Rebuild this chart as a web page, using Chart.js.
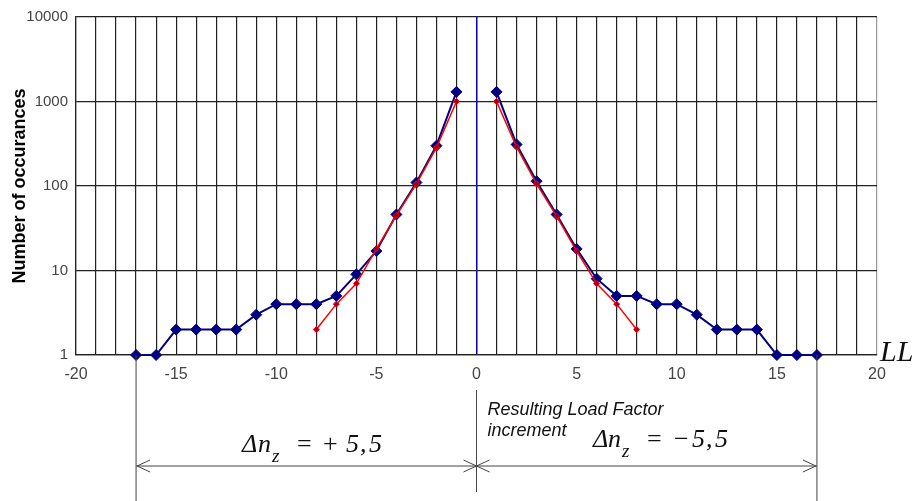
<!DOCTYPE html>
<html>
<head>
<meta charset="utf-8">
<script src="https://cdn.jsdelivr.net/npm/chart.js@4.4.0/dist/chart.umd.min.js"></script>
<style>
  html, body { margin: 0; padding: 0; background: #fff; }
  #wrap { width: 918px; height: 501px; }
</style>
</head>
<body>
<div id="wrap"><canvas id="myChart" width="918" height="501"></canvas></div>
<script>
// load factor steps (LL) and counts
var loadSteps = [-17, -16, -15, -14, -13, -12, -11, -10, -9, -8, -7, -6, -5, -4, -3, -2, -1, 0,
                 1, 2, 3, 4, 5, 6, 7, 8, 9, 10, 11, 12, 13, 14, 15, 16, 17];
var measured = [1, 1, 2, 2, 2, 2, 3, 4, 4, 4, 5, 9, 17, 46, 110, 300, 1300, null,
                1300, 310, 114, 46, 18, 8, 5, 5, 4, 4, 3, 2, 2, 2, 1, 1, 1];

var fitSteps = [-8, -7, -6, -5, -4, -3, -2, -1, 0, 1, 2, 3, 4, 5, 6, 7, 8];
var fitted = [2, 4, 7, 18, 45, 106, 285, 1000, null, 1000, 290, 106, 44, 17, 7, 4, 2];

var xLabels = [-20, -15, -10, -5, 0, 5, 10, 15, 20];
var yTicks = [1, 10, 100, 1000, 10000];
var spanLimit = 17;

function toPoints(xs, ys) {
  return xs.map(function (x, i) { return { x: x, y: ys[i] }; });
}

// chevron arrow head
function head(ctx, x, y, dir) {
  ctx.beginPath();
  ctx.moveTo(x + dir * 13, y - 6);
  ctx.lineTo(x, y);
  ctx.lineTo(x + dir * 13, y + 6);
  ctx.stroke();
}

var annotations = {
  id: 'annotations',
  afterDraw: function (chart) {
    var ctx = chart.ctx;
    var sx = chart.scales.x, sy = chart.scales.y;
    var xL = sx.getPixelForValue(-spanLimit);
    var x0 = sx.getPixelForValue(0);
    var xR = sx.getPixelForValue(spanLimit);
    var yB = sy.getPixelForValue(1);
    var yArrow = 466;

    ctx.save();
    ctx.strokeStyle = '#444';
    ctx.lineWidth = 1;
    ctx.beginPath();
    ctx.moveTo(xL, yB); ctx.lineTo(xL, chart.height);
    ctx.moveTo(xR, yB); ctx.lineTo(xR, chart.height);
    ctx.moveTo(x0, yB + 35); ctx.lineTo(x0, yB + 137);
    ctx.moveTo(xL, yArrow); ctx.lineTo(xR, yArrow);
    ctx.stroke();
    head(ctx, xL + 1, yArrow, 1);
    head(ctx, x0, yArrow, -1);
    head(ctx, x0, yArrow, 1);
    head(ctx, xR - 1, yArrow, -1);

    ctx.fillStyle = '#111';
    ctx.textBaseline = 'alphabetic';
    ctx.textAlign = 'left';
    ctx.font = 'italic 30px "Liberation Serif", "Times New Roman", serif';
    ctx.fillText('LL', sx.right + 3, yB + 6);

    ctx.font = 'italic 18px "Liberation Sans", Arial, sans-serif';
    ctx.fillText('Resulting Load Factor', x0 + 11, 415);
    ctx.fillText('increment', x0 + 11, 436);

    function formula(x, base, offs, sign) {
      var it = 'italic 26px "Liberation Serif", "Times New Roman", serif';
      ctx.font = it;
      ctx.fillText('\u0394', x, base);
      ctx.fillText('n', x + offs[0], base);
      ctx.font = 'italic 19px "Liberation Serif", "Times New Roman", serif';
      ctx.fillText('z', x + offs[1], base + 10);
      ctx.font = '26px "Liberation Serif", "Times New Roman", serif';
      ctx.fillText('=', x + offs[2], base);
      ctx.fillText(sign, x + offs[3], base);
      ctx.font = it;
      ctx.fillText('5', x + offs[4], base);
      ctx.fillText(',', x + offs[4] + 14, base);
      ctx.fillText('5', x + offs[4] + 23, base);
    }
    formula(242, 452, [16, 30, 55, 81, 104], '+');
    formula(593, 447, [15, 29, 54, 81, 99], '\u2212');
    ctx.restore();
  }
};

var ctx = document.getElementById('myChart');
var chart = new Chart(ctx, {
  type: 'line',
  data: {
    datasets: [
      {
        label: 'fit',
        data: toPoints(fitSteps, fitted),
        borderColor: '#ff0000',
        borderWidth: 1.5,
        pointStyle: 'rectRot',
        pointRadius: 3,
        pointBorderColor: '#ff0000',
        pointBackgroundColor: '#900030',
        pointBorderWidth: 1,
        spanGaps: false,
        clip: false,
        order: 1
      },
      {
        label: 'measured',
        data: toPoints(loadSteps, measured),
        borderColor: '#000080',
        borderWidth: 2,
        pointStyle: 'rectRot',
        pointRadius: 5.5,
        pointBorderColor: '#000080',
        pointBackgroundColor: '#000080',
        pointBorderWidth: 1,
        spanGaps: false,
        clip: false,
        order: 2
      }
    ]
  },
  options: {
    responsive: false,
    animation: false,
    events: [],
    layout: { padding: { top: 15, right: 41, left: 0, bottom: 0 } },
    plugins: { legend: { display: false }, tooltip: { enabled: false } },
    scales: {
      x: {
        type: 'linear',
        min: -20,
        max: 20,
        afterFit: function (scale) { scale.height = 146; },
        ticks: {
          stepSize: 1,
          autoSkip: false,
          maxRotation: 0,
          padding: 10,
          color: '#444',
          font: { family: '"Liberation Sans", Arial, sans-serif', size: 16 },
          callback: function (v) { return xLabels.indexOf(v) >= 0 ? String(v) : ''; }
        },
        grid: {
          drawTicks: false,
          lineWidth: function (c) { return c.tick && c.tick.value === 0 ? 1.5 : 1.2; },
          color: function (c) {
            if (!c.tick) return '#222';
            if (c.tick.value === 0) return '#0000cc';
            if (c.tick.value === 20) return '#999';
            return '#222';
          }
        },
        border: { color: '#222', width: 1.2 }
      },
      y: {
        type: 'logarithmic',
        min: 1,
        max: 10000,
        afterFit: function (scale) { scale.width = 76; },
        afterBuildTicks: function (scale) {
          scale.ticks = yTicks.map(function (v) { return { value: v }; });
        },
        ticks: {
          padding: 8,
          color: '#444',
          font: { family: '"Liberation Sans", Arial, sans-serif', size: 15 },
          callback: function (v) { return String(v); }
        },
        grid: { drawTicks: false, color: '#222', lineWidth: 1.2 },
        border: { color: '#222', width: 1.2 },
        title: {
          display: true,
          text: 'Number of occurances',
          color: '#000',
          padding: { top: 9, bottom: 0 },
          font: { family: '"Liberation Sans", Arial, sans-serif', size: 18, weight: 'bold', lineHeight: 1.2 }
        }
      }
    }
  },
  plugins: [annotations]
});
</script>
</body>
</html>
